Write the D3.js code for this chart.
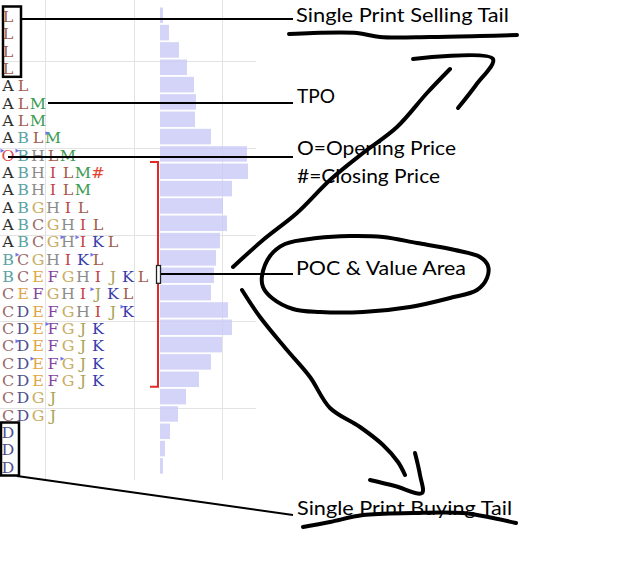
<!DOCTYPE html>
<html>
<head>
<meta charset="utf-8">
<script src="https://cdn.jsdelivr.net/npm/d3@7"></script>
<style>
  body { margin: 0; background: #fff; }
</style>
</head>
<body>
<div id="profile"></div>
<script>
// TPO letters per price row, top (high) to bottom (low)
const tpoRows = [
  "L", "L", "L", "L", "AL", "ALM", "ALM", "ABLM", "OBHLM",
  "ABHILM#", "ABHILM", "ABGHIL", "ABCGHIL", "ABCGHIKL", "BCGHIKL",
  "BCEFGHIJKL", "CEFGHIJKL", "CDEFGHIJK", "CDEFGJK", "CDEFGJK",
  "CDEFGJK", "CDEFGJK", "CDGJ", "CDGJ", "D", "D", "D"
];
// volume at each price row
const volumes = [30, 90, 190, 270, 340, 360, 350, 510, 870, 880, 720, 630, 670, 600,
  560, 540, 510, 680, 720, 620, 510, 390, 260, 180, 100, 50, 30];
// [row, column] of the small half-period markers
const markers = [[7, 3], [8, 0], [8, 1], [13, 4], [13, 5], [14, 1], [14, 6], [16, 6],
  [17, 8], [18, 3], [19, 1], [20, 2], [20, 4]];
const valueArea = [9, 21];
const pocRow = 15;
const gridRowTicks = [3.1, 8.1, 13.1, 18.1, 23.1];
const gridColTicks = [1, 2, 3];

const labels = [
  { text: "Single Print Selling Tail", x: 296, y: 22, w: 213 },
  { text: "TPO", x: 297, y: 103, w: 38 },
  { text: "O=Opening Price", x: 297, y: 155, w: 159 },
  { text: "#=Closing Price", x: 297, y: 183, w: 143 },
  { text: "POC & Value Area", x: 296, y: 275, w: 170 },
  { text: "Single Print Buying Tail", x: 297, y: 515, w: 215 }
];

const letterColor = {
  A: "#2e2e2e", B: "#5aa3a3", C: "#9c6a6a", D: "#4f4f90", E: "#e2a445",
  F: "#8442a2", G: "#c9ad62", H: "#8c8c8c", I: "#c53f4b", J: "#aaa255",
  K: "#3838aa", L: "#a25a4c", M: "#3c9c52", O: "#e24a4a", "#": "#e2432f"
};

const svg = d3.select("#profile")
  .append("svg")
  .attr("width", 625)
  .attr("height", 577);

// SCALES
const yRow = d3.scaleLinear().domain([0, tpoRows.length]).range([7.5, 475.5]);
const rowStep = yRow(1) - yRow(0);
const xCol = d3.scaleLinear().domain([0, 9]).range([8, 143]);
const xVol = d3.scaleLinear().domain([0, 1000]).range([0, 100]);
const xGrid = d3.scaleLinear().domain([0, 3]).range([-43.5, 222]);
const barLeft = 160;

// GRID
const grid = svg.append("g").attr("stroke", "#e3e3e3").attr("stroke-width", 1);
grid.selectAll("line.v")
  .data(gridColTicks)
  .join("line")
  .attr("class", "v")
  .attr("x1", (d) => Math.round(xGrid(d)) + 0.5)
  .attr("x2", (d) => Math.round(xGrid(d)) + 0.5)
  .attr("y1", 0)
  .attr("y2", 480);
grid.selectAll("line.h")
  .data(gridRowTicks)
  .join("line")
  .attr("class", "h")
  .attr("x1", 0)
  .attr("x2", 256)
  .attr("y1", (d) => Math.round(yRow(d)) + 0.5)
  .attr("y2", (d) => Math.round(yRow(d)) + 0.5);

// VOLUME BARS
svg.append("g")
  .selectAll("rect")
  .data(volumes)
  .join("rect")
  .attr("x", barLeft)
  .attr("y", (d, i) => yRow(i))
  .attr("width", (d) => xVol(d))
  .attr("height", rowStep - 1.8)
  .attr("fill", "#c9c9f8")
  .attr("fill-opacity", 0.8);

// TPO LETTERS
const letters = [];
tpoRows.forEach((row, i) => {
  row.split("").forEach((ch, j) => letters.push({ ch: ch, row: i, col: j }));
});
svg.append("g")
  .attr("font-family", "'DejaVu Serif', serif")
  .attr("font-size", "14.5px")
  .attr("text-anchor", "middle")
  .selectAll("text")
  .data(letters)
  .join("text")
  .attr("transform", (d) => `translate(${xCol(d.col)}, ${yRow(d.row) + 14.5}) scale(1.1, 1)`)
  .attr("fill", (d) => letterColor[d.ch])
  .text((d) => d.ch);

// markers
svg.append("g")
  .selectAll("path")
  .data(markers)
  .join("path")
  .attr("transform", (d) => `translate(${xCol(d[1]) - 7.5}, ${yRow(d[0]) + 2.5})`)
  .attr("d", "M0,0 L4,2 L0,4 Z")
  .attr("fill", "#7373ea");

// VALUE AREA BRACKET
const vaTop = yRow(valueArea[0]) - 1.5;
const vaBottom = yRow(valueArea[1] + 1) - 2;
svg.append("path")
  .attr("d", `M150,${vaTop} H158 V${vaBottom} H150`)
  .attr("fill", "none")
  .attr("stroke", "#e02a2a")
  .attr("stroke-width", 2);

// POC marker
svg.append("rect")
  .attr("x", 156.5)
  .attr("y", yRow(pocRow) - 2)
  .attr("width", 4)
  .attr("height", rowStep + 0.5)
  .attr("fill", "#fff")
  .attr("stroke", "#222")
  .attr("stroke-width", 1.3);

// ANNOTATIONS
const ann = svg.append("g").attr("stroke", "#000").attr("fill", "none");
ann.append("rect")
  .attr("x", xCol(0) - 5).attr("y", yRow(0) - 1)
  .attr("width", 18).attr("height", yRow(4) - yRow(0) + 1)
  .attr("stroke-width", 2.5);
ann.append("rect")
  .attr("x", xCol(0) - 7).attr("y", yRow(24) - 1)
  .attr("width", 18).attr("height", yRow(27) - yRow(24) + 1)
  .attr("stroke-width", 2.5);

const straight = [
  [[21, 19], [293, 19]],
  [[48, 103], [293, 103]],
  [[8, 157], [293, 157]],
  [[161, 274], [293, 274]],
  [[17, 476], [293, 515]]
];
ann.selectAll("line")
  .data(straight)
  .join("line")
  .attr("x1", (d) => d[0][0]).attr("y1", (d) => d[0][1])
  .attr("x2", (d) => d[1][0]).attr("y2", (d) => d[1][1])
  .attr("stroke-width", 2);

svg.append("g")
  .attr("font-family", "Lato, 'Open Sans', sans-serif")
  .attr("font-size", "19px")
  .attr("fill", "#000")
  .selectAll("text")
  .data(labels)
  .join("text")
  .attr("x", (d) => d.x)
  .attr("y", (d) => d.y)
  .attr("textLength", (d) => d.w)
  .attr("lengthAdjust", "spacingAndGlyphs")
  .text((d) => d.text);

// hand drawn strokes
const strokes = [
  [[289, 34], [313, 33], [357, 33], [380, 37], [430, 37], [480, 36], [517, 35]],
  [[233, 267], [263, 240], [297, 213], [330, 180], [363, 153], [397, 127], [427, 93], [450, 69]],
  [[413, 59], [493, 59], [476, 85], [458, 108]],
  [[242, 290], [260, 317], [287, 350], [310, 377], [330, 408], [360, 427], [383, 445], [398, 462], [405, 475]],
  [[415, 453], [420, 475], [422, 493], [395, 486], [370, 480]],
  [[303, 527], [330, 522], [363, 515], [413, 513], [463, 513], [493, 518], [516, 523]]
];
const loop = [[262, 276], [270, 256], [285, 244], [317, 238], [350, 236], [383, 237], [417, 243],
  [455, 250], [480, 257], [488, 266], [487, 278], [477, 290], [450, 298], [410, 307],
  [363, 312], [320, 312], [293, 309], [272, 298], [263, 287]];

const hand = d3.line().curve(d3.curveCatmullRom);
const handLoop = d3.line().curve(d3.curveCatmullRomClosed);
const strokesG = svg.append("g")
  .attr("fill", "none")
  .attr("stroke", "#000")
  .attr("stroke-width", 4)
  .attr("stroke-linecap", "round")
  .attr("stroke-linejoin", "round");
strokesG.selectAll("path")
  .data(strokes)
  .join("path")
  .attr("d", hand);
strokesG.append("path").attr("d", handLoop(loop));
</script>
</body>
</html>
